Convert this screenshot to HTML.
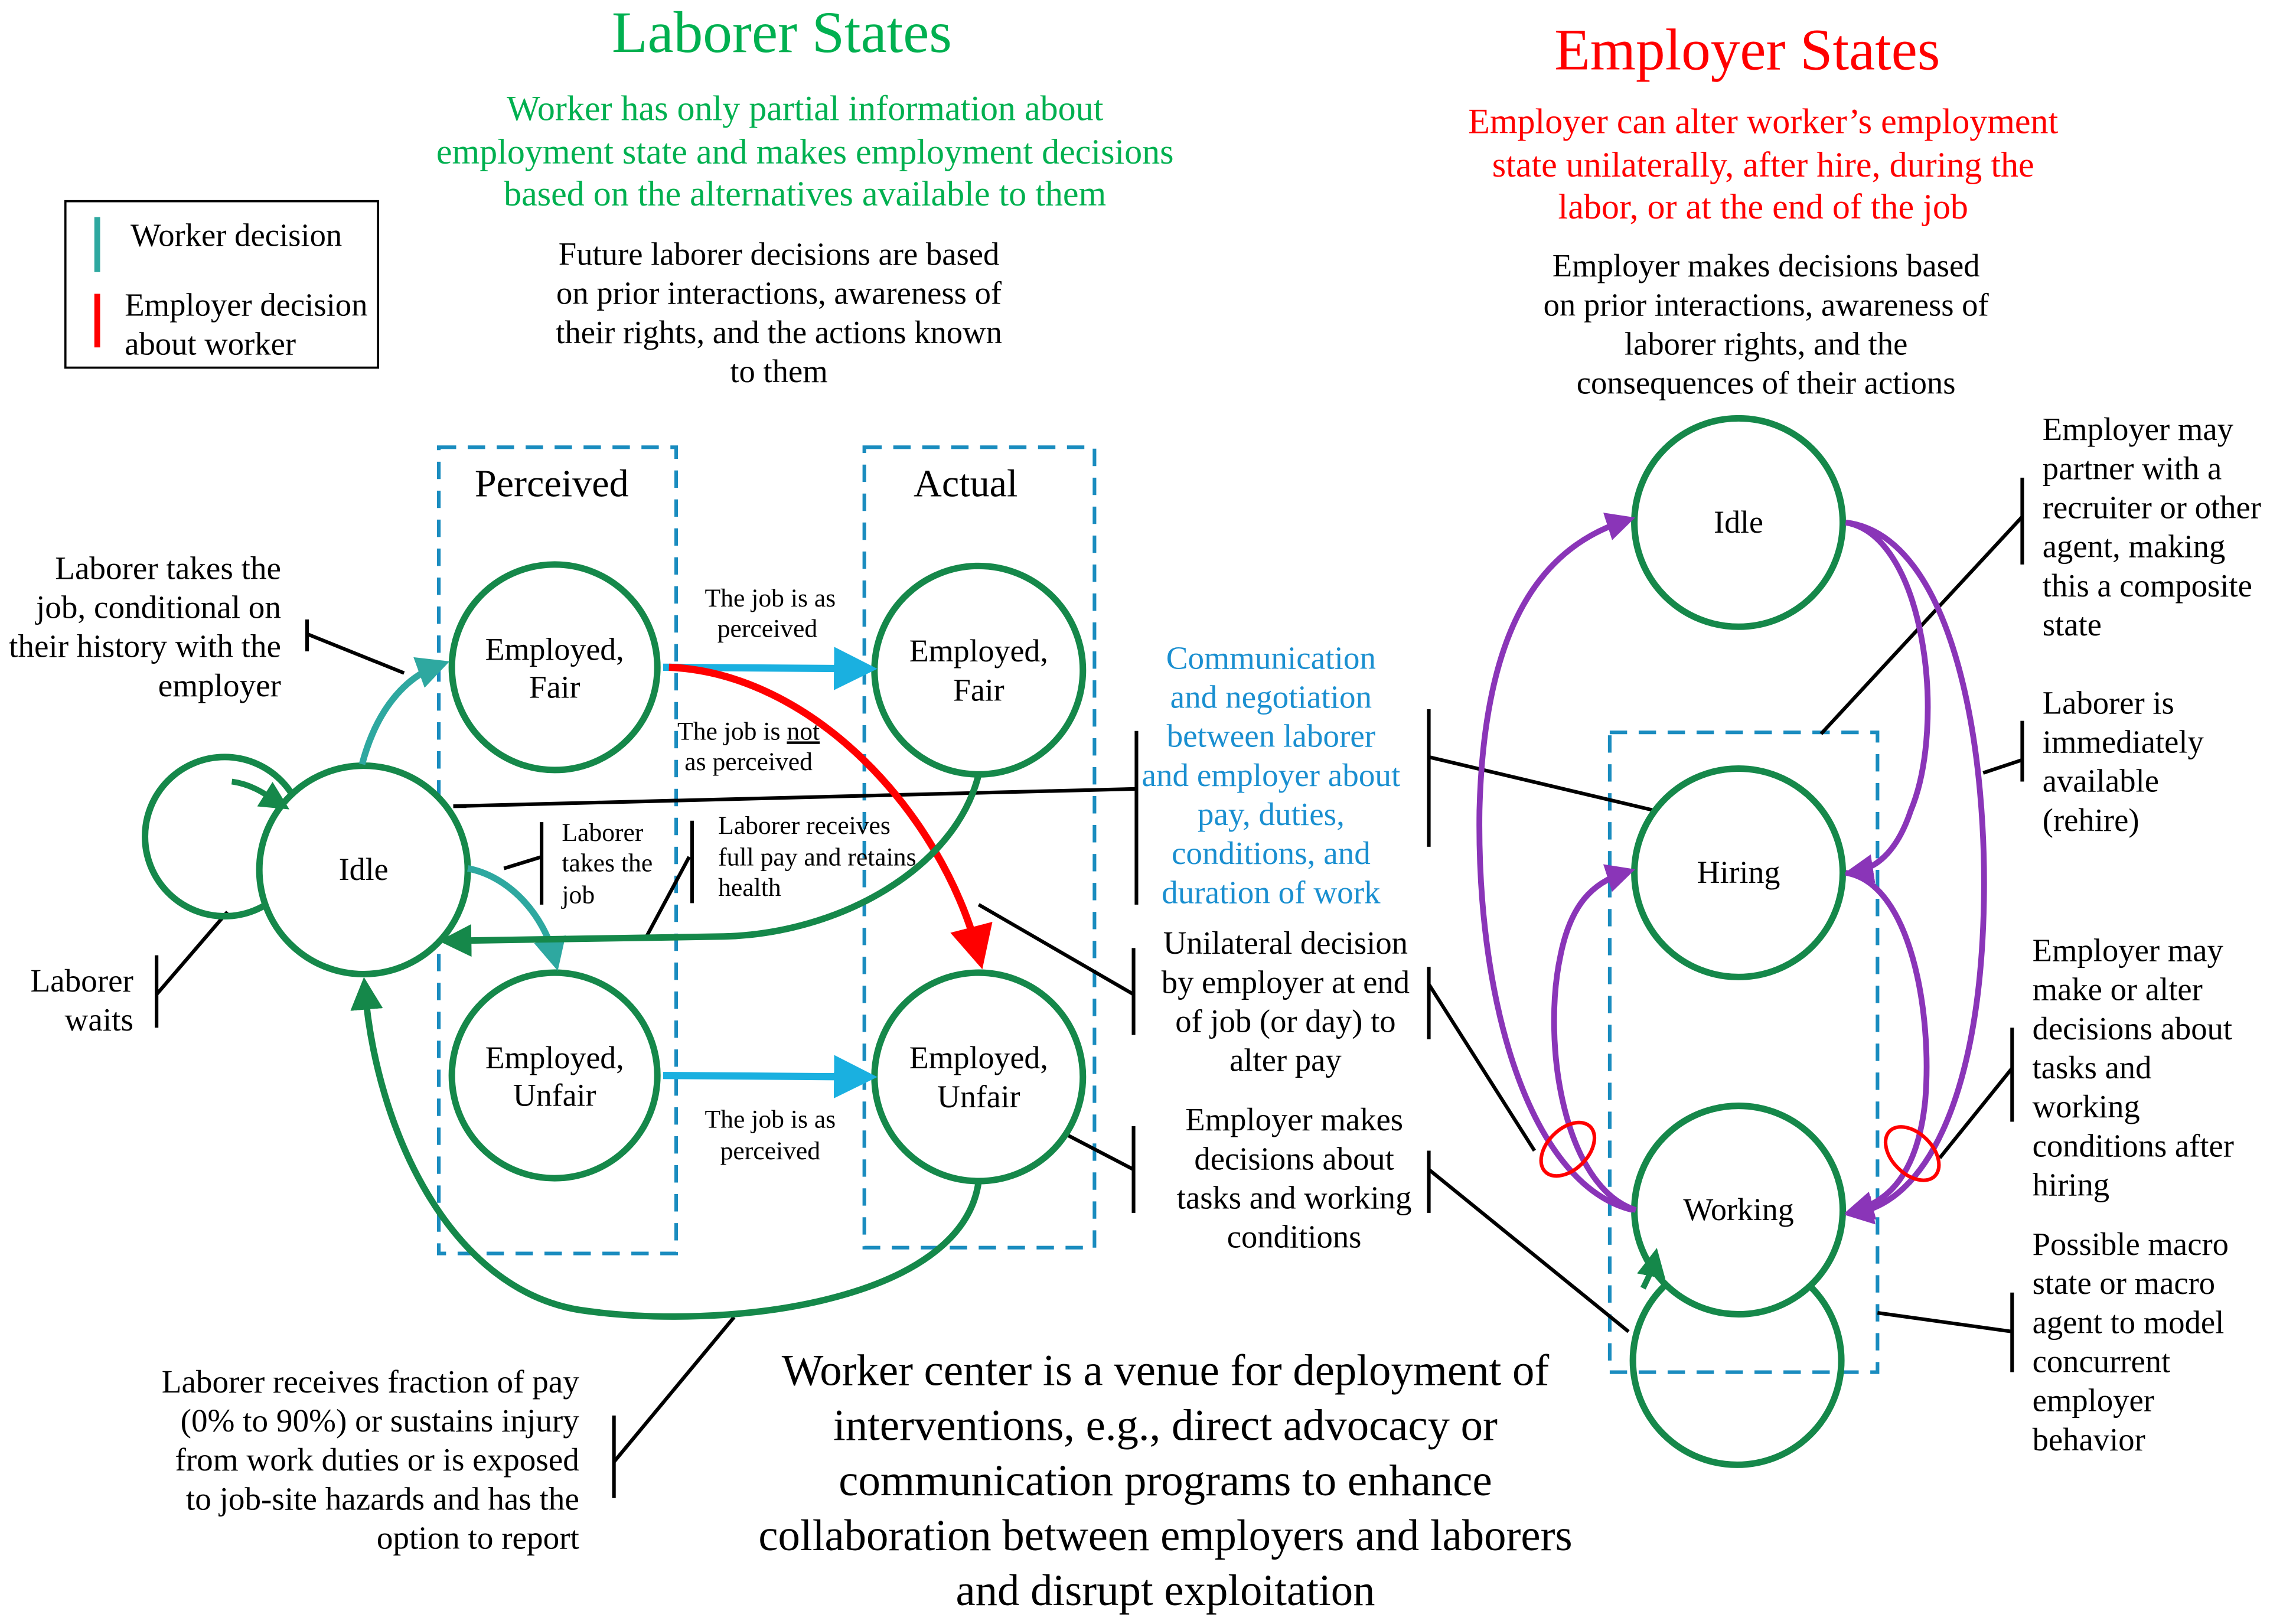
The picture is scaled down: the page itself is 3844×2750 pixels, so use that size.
<!DOCTYPE html>
<html><head><meta charset="utf-8"><style>
html,body{margin:0;padding:0;background:#fff}
svg{display:block}
text{font-family:"Liberation Serif",serif;}
</style></head><body>
<svg width="3844" height="2750" viewBox="0 0 1568 1122" xmlns="http://www.w3.org/2000/svg">
<defs>
<marker id="aC" markerWidth="6" markerHeight="6" refX="4" refY="3" orient="auto" markerUnits="strokeWidth"><path d="M0,0 L6,3 L0,6 z" fill="#1ab0e0"/></marker>
<marker id="aR" markerWidth="6" markerHeight="6" refX="4" refY="3" orient="auto" markerUnits="strokeWidth"><path d="M0,0 L6,3 L0,6 z" fill="#ff0000"/></marker>
<marker id="aT" markerWidth="5" markerHeight="5" refX="3" refY="2.5" orient="auto" markerUnits="strokeWidth"><path d="M0,0 L5,2.5 L0,5 z" fill="#2ea8a0"/></marker>
<marker id="aG" markerWidth="5" markerHeight="5" refX="3" refY="2.5" orient="auto" markerUnits="strokeWidth"><path d="M0,0 L5,2.5 L0,5 z" fill="#15884a"/></marker>
<marker id="aP" markerWidth="5" markerHeight="5" refX="3" refY="2.5" orient="auto" markerUnits="strokeWidth"><path d="M0,0 L5,2.5 L0,5 z" fill="#8a35b8"/></marker>
</defs>
<rect width="1568" height="1122" fill="#fff"/>

<g text-anchor="middle">
<text x="540" y="36" font-size="40.5" fill="#00b050">Laborer States</text>
<text x="556" y="83" font-size="24.5" fill="#00b050">Worker has only partial information about</text>
<text x="556" y="113" font-size="24.5" fill="#00b050">employment state and makes employment decisions</text>
<text x="556" y="142" font-size="24.5" fill="#00b050">based on the alternatives available to them</text>
<text x="538" y="183" font-size="22.3">Future laborer decisions are based</text>
<text x="538" y="210" font-size="22.3">on prior interactions, awareness of</text>
<text x="538" y="237" font-size="22.3">their rights, and the actions known</text>
<text x="538" y="264" font-size="22.3">to them</text>
<text x="1207" y="48" font-size="40.5" fill="#ff0000">Employer States</text>
<text x="1218" y="92" font-size="24.5" fill="#ff0000">Employer can alter worker’s employment</text>
<text x="1218" y="122" font-size="24.5" fill="#ff0000">state unilaterally, after hire, during the</text>
<text x="1218" y="151" font-size="24.5" fill="#ff0000">labor, or at the end of the job</text>
<text x="1220" y="191" font-size="22.3">Employer makes decisions based</text>
<text x="1220" y="218" font-size="22.3">on prior interactions, awareness of</text>
<text x="1220" y="245" font-size="22.3">laborer rights, and the</text>
<text x="1220" y="272" font-size="22.3">consequences of their actions</text>
</g>

<rect x="45" y="139" width="216" height="115" fill="none" stroke="#000" stroke-width="1.5"/>
<line x1="67" y1="150" x2="67" y2="188" stroke="#2ea8a0" stroke-width="4"/>
<line x1="67" y1="203" x2="67" y2="240" stroke="#ff0000" stroke-width="4"/>
<text x="90" y="170" font-size="22.3">Worker decision</text>
<text x="86" y="218" font-size="22.3">Employer decision</text>
<text x="86" y="245" font-size="22.3">about worker</text>

<g fill="none" stroke="#1a8cbf" stroke-width="2.5" stroke-dasharray="12,8">
<rect x="303" y="309" width="164" height="557"/>
<rect x="597" y="309" width="159" height="553"/>
<rect x="1112" y="506" width="185" height="442"/>
</g>
<text x="381" y="343" font-size="27" text-anchor="middle">Perceived</text>
<text x="667" y="343" font-size="27" text-anchor="middle">Actual</text>

<g stroke="#000" stroke-width="2.5" fill="none">
<line x1="313" y1="557" x2="785" y2="545"/>
<line x1="785" y1="505" x2="785" y2="625"/>
<path d="M212,428 L212,450 M212,438 L279,465"/>
<path d="M108,660 L108,710 M108,687 L157,630"/>
<path d="M374,568 L374,625 M374,592 L348,600"/>
<path d="M478,567 L478,624 M476,592 L446,648"/>
<path d="M783,655 L783,715 M783,687 L676,625"/>
<path d="M783,778 L783,838 M783,808 L735,783"/>
<path d="M424,978 L424,1035 M424,1010 L507,910"/>
<path d="M987,490 L987,585 M987,523 L1143,560"/>
<path d="M987,668 L987,718 M987,680 L1060,795"/>
<path d="M987,795 L987,838 M987,808 L1125,920"/>
<path d="M1397,330 L1397,390 M1397,357 L1258,507"/>
<path d="M1397,498 L1397,540 M1397,525 L1370,534"/>
<path d="M1390,710 L1390,775 M1390,738 L1340,800"/>
<path d="M1390,893 L1390,948 M1390,920 L1297,907"/>
</g>

<circle cx="155" cy="578" r="55" fill="none" stroke="#15884a" stroke-width="4.5"/>
<circle cx="1200" cy="940" r="72" fill="none" stroke="#15884a" stroke-width="4.5"/>

<g fill="#fff" stroke="#15884a" stroke-width="4.5">
<circle cx="251" cy="601" r="72"/>
<circle cx="383" cy="461" r="71"/>
<circle cx="383" cy="743" r="71"/>
<circle cx="676" cy="463" r="72"/>
<circle cx="676" cy="744" r="72"/>
<circle cx="1201" cy="361" r="72"/>
<circle cx="1201" cy="603" r="72"/>
<circle cx="1201" cy="836" r="72"/>
</g>
<line x1="313" y1="557" x2="322" y2="557" stroke="#000" stroke-width="2.5"/>

<g font-size="22" text-anchor="middle">
<text x="251" y="608">Idle</text>
<text x="383" y="456">Employed,</text><text x="383" y="482">Fair</text>
<text x="383" y="738">Employed,</text><text x="383" y="764">Unfair</text>
<text x="676" y="457">Employed,</text><text x="676" y="484">Fair</text>
<text x="676" y="738">Employed,</text><text x="676" y="765">Unfair</text>
<text x="1201" y="368">Idle</text>
<text x="1201" y="610">Hiring</text>
<text x="1201" y="843">Working</text>
</g>

<line x1="458" y1="461" x2="596" y2="462" stroke="#1ab0e0" stroke-width="5" marker-end="url(#aC)"/>
<line x1="458" y1="743" x2="596" y2="744" stroke="#1ab0e0" stroke-width="5" marker-end="url(#aC)"/>
<path d="M462,461 C560,465 650,560 676,660" fill="none" stroke="#ff0000" stroke-width="5" marker-end="url(#aR)"/>
<path d="M250,528 C260,490 280,468 302,460" fill="none" stroke="#2ea8a0" stroke-width="4.5" marker-end="url(#aT)"/>
<path d="M323,600 C350,605 375,630 383,662" fill="none" stroke="#2ea8a0" stroke-width="4.5" marker-end="url(#aT)"/>
<path d="M676,535 C660,600 580,645 500,647 L312,650" fill="none" stroke="#15884a" stroke-width="4.5" marker-end="url(#aG)"/>
<path d="M676,816 C665,900 500,920 400,905 C310,890 260,780 252,684" fill="none" stroke="#15884a" stroke-width="4.5" marker-end="url(#aG)"/>
<path d="M160,540 C175,542 185,550 193,555" fill="none" stroke="#15884a" stroke-width="4" marker-end="url(#aG)"/>
<path d="M1135,890 C1140,880 1142,875 1143,870" fill="none" stroke="#15884a" stroke-width="4" marker-end="url(#aG)"/>

<g fill="none" stroke="#8a35b8" stroke-width="4">
<path d="M1128,836 C1060,820 1020,700 1022,560 C1025,440 1060,380 1122,360" marker-end="url(#aP)"/>
<path d="M1275,361 C1330,370 1345,500 1320,560 C1310,590 1295,600 1282,602" marker-end="url(#aP)"/>
<path d="M1275,361 C1350,370 1375,520 1370,640 C1365,760 1330,830 1282,838" marker-end="url(#aP)"/>
<path d="M1130,836 C1080,820 1065,720 1078,660 C1085,625 1100,610 1122,603" marker-end="url(#aP)"/>
<path d="M1275,603 C1320,610 1335,700 1330,760 C1325,810 1305,830 1282,836" marker-end="url(#aP)"/>
</g>
<ellipse cx="1083" cy="794" rx="14" ry="22" transform="rotate(45 1083 794)" fill="none" stroke="#ff0000" stroke-width="2.5"/>
<ellipse cx="1321" cy="797" rx="14" ry="22" transform="rotate(-45 1321 797)" fill="none" stroke="#ff0000" stroke-width="2.5"/>

<g font-size="17.8" text-anchor="middle">
<text x="532" y="419">The job is as</text><text x="530" y="440">perceived</text>
<text x="517" y="511">The job is <tspan text-decoration="underline">not</tspan></text><text x="517" y="532">as perceived</text>
<text x="532" y="779">The job is as</text><text x="532" y="801">perceived</text>
</g>
<g font-size="17.8">
<text x="388" y="581">Laborer</text><text x="388" y="602">takes the</text><text x="388" y="624">job</text>
<text x="496" y="576">Laborer receives</text><text x="496" y="598">full pay and retains</text><text x="496" y="619">health</text>
</g>

<g font-size="22.5" text-anchor="end">
<text x="194" y="400">Laborer takes the</text>
<text x="194" y="427">job, conditional on</text>
<text x="194" y="454">their history with the</text>
<text x="194" y="481">employer</text>
<text x="92" y="685">Laborer</text>
<text x="92" y="712">waits</text>
<text x="400" y="962">Laborer receives fraction of pay</text>
<text x="400" y="989">(0% to 90%) or sustains injury</text>
<text x="400" y="1016">from work duties or is exposed</text>
<text x="400" y="1043">to job-site hazards and has the</text>
<text x="400" y="1070">option to report</text>
</g>
<g font-size="22.5" text-anchor="middle" fill="#1a8fd0">
<text x="878" y="462">Communication</text>
<text x="878" y="489">and negotiation</text>
<text x="878" y="516">between laborer</text>
<text x="878" y="543">and employer about</text>
<text x="878" y="570">pay, duties,</text>
<text x="878" y="597">conditions, and</text>
<text x="878" y="624">duration of work</text>
</g>
<g font-size="22.3" text-anchor="middle">
<text x="888" y="659">Unilateral decision</text>
<text x="888" y="686">by employer at end</text>
<text x="888" y="713">of job (or day) to</text>
<text x="888" y="740">alter pay</text>
<text x="894" y="781">Employer makes</text>
<text x="894" y="808">decisions about</text>
<text x="894" y="835">tasks and working</text>
<text x="894" y="862">conditions</text>
</g>
<g font-size="22.3">
<text x="1411" y="304">Employer may</text>
<text x="1411" y="331">partner with a</text>
<text x="1411" y="358">recruiter or other</text>
<text x="1411" y="385">agent, making</text>
<text x="1411" y="412">this a composite</text>
<text x="1411" y="439">state</text>
<text x="1411" y="493">Laborer is</text>
<text x="1411" y="520">immediately</text>
<text x="1411" y="547">available</text>
<text x="1411" y="574">(rehire)</text>
<text x="1404" y="664">Employer may</text>
<text x="1404" y="691">make or alter</text>
<text x="1404" y="718">decisions about</text>
<text x="1404" y="745">tasks and</text>
<text x="1404" y="772">working</text>
<text x="1404" y="799">conditions after</text>
<text x="1404" y="826">hiring</text>
<text x="1404" y="867">Possible macro</text>
<text x="1404" y="894">state or macro</text>
<text x="1404" y="921">agent to model</text>
<text x="1404" y="948">concurrent</text>
<text x="1404" y="975">employer</text>
<text x="1404" y="1002">behavior</text>
</g>
<g font-size="30.5" text-anchor="middle">
<text x="805" y="957">Worker center is a venue for deployment of</text>
<text x="805" y="995">interventions, e.g., direct advocacy or</text>
<text x="805" y="1033">communication programs to enhance</text>
<text x="805" y="1071">collaboration between employers and laborers</text>
<text x="805" y="1109">and disrupt exploitation</text>
</g>
</svg>
</body></html>
